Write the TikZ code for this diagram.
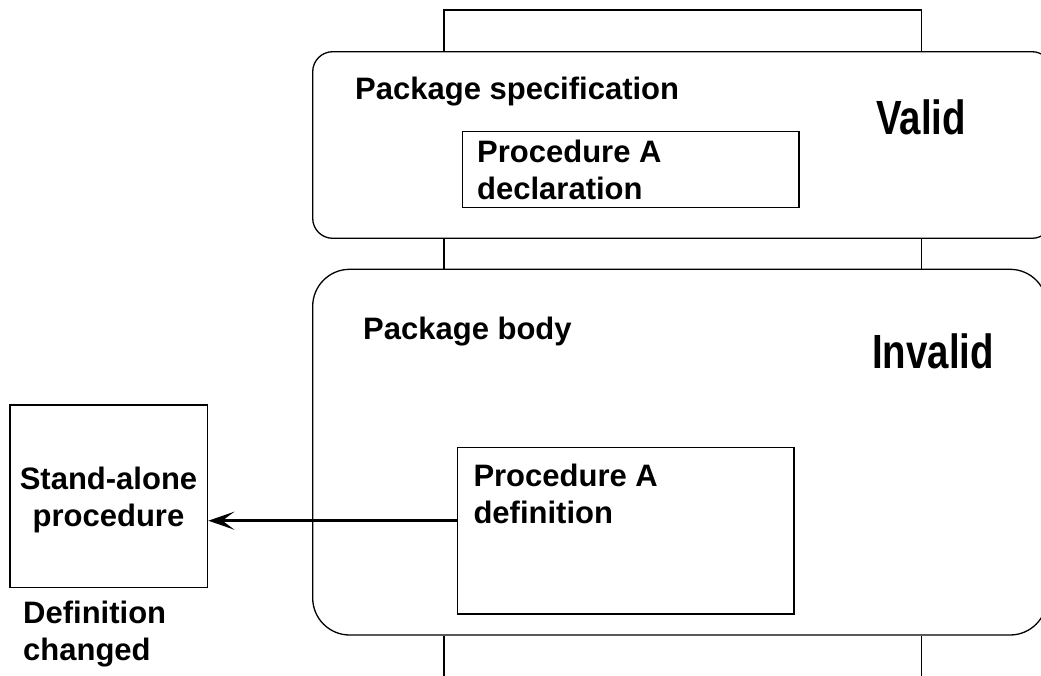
\documentclass[tikz,border=0pt]{standalone}
\usepackage{fontspec}
\setmainfont{Liberation Sans}
\newfontfamily\narrowfont[FakeStretch=0.8]{Liberation Sans}
\usetikzlibrary{arrows.meta}

\begin{document}
\begin{tikzpicture}[x=1pt,y=-1pt,
    line/.style={line width=1.3pt},
    box/.style={draw,line width=1.3pt,rectangle,inner sep=0pt},
    txt/.style={font=\fontsize{31}{37}\selectfont\bfseries,inner sep=0pt},
    status/.style={font=\fontsize{48}{54}\selectfont\narrowfont\bfseries,inner sep=0pt}]

    % Fix the size of the page
    \useasboundingbox (0,0) rectangle (1041,675);

    % Define the corners of the package outline
    \coordinate (TL) at (444,10);
    \coordinate (TR) at (921.7,10);

    % Draw the package specification and body
    \node[box,rounded corners=20pt,minimum width=739.3pt,minimum height=186.6pt] (spec) at (682.35,145) {};
    \node[box,rounded corners=37pt,minimum width=734.3pt,minimum height=365.7pt] (body) at (679.85,452.15) {};

    % Draw the side lines of the package
    \draw[line] (spec.north -| TL) -- (TL) -- (TR) -- (spec.north -| TR);
    \draw[line] (spec.south -| TL) -- (body.north -| TL);
    \draw[line] (spec.south -| TR) -- (body.north -| TR);
    \draw[line] (body.south -| TL) -- ++(0,45);
    \draw[line] (body.south -| TR) -- ++(0,45);

    % Draw the procedure boxes
    \node[box,minimum width=336.3pt,minimum height=75.6pt] (decl) at (630.85,169.5) {};
    \node[box,minimum width=336.7pt,minimum height=166.7pt] (defn) at (625.65,530.65) {};
    \node[box,minimum width=197.7pt,minimum height=182.7pt] (alone) at (108.85,496.35) {};

    % Draw the arrow from the definition to the stand-alone procedure
    \coordinate (Y) at (0,520.7);
    \draw[line width=2.6pt,-{Stealth[length=26pt,width=18pt,inset=12pt]}] (defn.west |- Y) -- (alone.east |- Y);

    % Add the labels
    \node[txt,anchor=base west] (spectxt) at (355,99) {Package specification};
    \node[txt,anchor=base west] (bodytxt) at (363,339.3) {Package body};
    \node[status,anchor=base] (valid) at (921,134) {Valid};
    \node[status,anchor=base] (invalid) at (933,368) {Invalid};
    \node[txt,anchor=north west,align=left] (decltxt) at (477,140) {Procedure A\\declaration};
    \node[txt,anchor=north west,align=left] (defntxt) at (473.3,464) {Procedure A\\definition};
    \node[txt,anchor=north,align=center] (alonetxt) at (108.5,466.5) {Stand-alone\\procedure};
    \node[txt,anchor=north west,align=left] (changed) at (23,600.5) {Definition\\changed};

\end{tikzpicture}
\end{document}
